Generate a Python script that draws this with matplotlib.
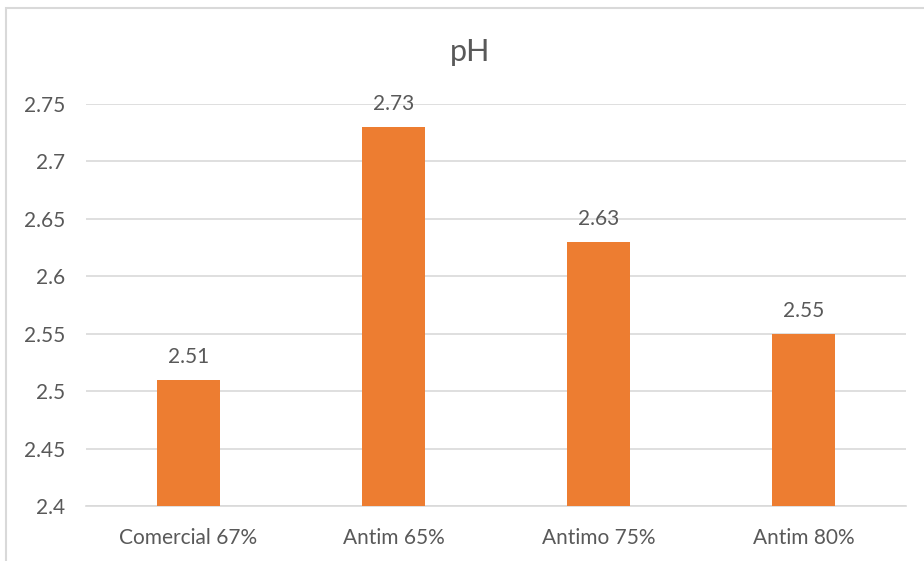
import matplotlib.pyplot as plt
from matplotlib.patches import Rectangle

# pH by sample
categories = ["Comercial 67%", "Antim 65%", "Antimo 75%", "Antim 80%"]
ph_values = [2.51, 2.73, 2.63, 2.55]
yticks = [2.4, 2.45, 2.5, 2.55, 2.6, 2.65, 2.7, 2.75]
ytick_labels = ["2.4", "2.45", "2.5", "2.55", "2.6", "2.65", "2.7", "2.75"]

plt.rcParams['font.family'] = ['Lato', 'DejaVu Sans']
grey = "#595959"

fig = plt.figure(figsize=(9.24, 5.61), dpi=100)
ax = fig.add_axes([86/924, 55/561, 820/924, 402/561])

x = range(len(categories))
ax.bar(x, ph_values, width=0.31, color="#ED7D31", zorder=3)
for xi, v in zip(x, ph_values):
    ax.annotate(f"{v:.2f}", (xi, v), xytext=(0, 9), textcoords="offset points",
                ha="center", va="bottom", fontsize=15, color=grey)

ax.set_xlim(-0.5, len(categories) - 0.5)
ax.set_ylim(2.4, 2.75)
ax.set_yticks(yticks)
ax.set_yticklabels(ytick_labels)
ax.set_xticks(list(x))
ax.set_xticklabels(categories)
ax.tick_params(axis="both", length=0, labelsize=15, labelcolor=grey)
ax.tick_params(axis="y", pad=15)
ax.tick_params(axis="x", pad=16)
ax.grid(axis="y", color="#D9D9D9", linewidth=1.2, zorder=0)
for s in ["top", "right", "left"]:
    ax.spines[s].set_visible(False)
ax.spines["bottom"].set_color("#D9D9D9")
ax.spines["bottom"].set_linewidth(1.2)

fig.text(470/924, 1 - 52/561, "pH", ha="center", va="center", fontsize=22, color=grey)

# chart frame
fig.patches.append(Rectangle((6/924, -0.05), 1.0, 1 - 8/561 + 0.05, transform=fig.transFigure,
                             fill=False, edgecolor="#D9D9D9", linewidth=1.5))

fig.savefig("out.png", dpi=100)
